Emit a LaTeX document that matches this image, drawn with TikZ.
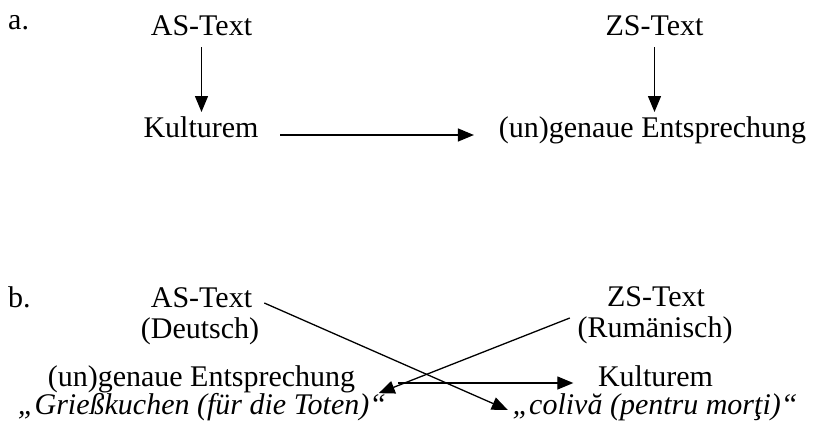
\documentclass[tikz,border=0pt]{standalone}
\usepackage{fontspec}
\setmainfont{Liberation Serif}
\usetikzlibrary{arrows.meta,calc}
\begin{document}
\begin{tikzpicture}[x=1pt,y=-1pt,
  lbl/.style={inner sep=0pt, anchor=base, font=\fontsize{30}{36}\selectfont},
  ital/.style={lbl, font=\fontsize{30}{36}\selectfont\itshape},
  tag/.style={lbl, anchor=base west},
  arr/.style={line width=1.3pt, -{Triangle[length=16pt,width=13pt]}}]
\useasboundingbox (0,0) rectangle (817,426);

% part a
\node[tag] (la) at (8,29) {a.};
\node[lbl] (asA) at (201.5,35) {AS-Text};
\node[lbl] (zsA) at (654.5,35) {ZS-Text};
\node[lbl] (kultA) at (201,137) {Kulturem};
\node[lbl] (entA) at (652.5,137) {(un)genaue Entsprechung};

\draw[arr] ($(asA.base)+(0,12)$) -- ($(asA.base |- kultA.base)+(0,-25)$);
\draw[arr] ($(zsA.base)+(0,12)$) -- ($(zsA.base |- entA.base)+(0,-25)$);
\draw[arr] ($(kultA.base east)+(21.5,-2)$) -- ($(entA.base west)+(-24.7,-2)$);

% part b
\node[tag] (lb) at (8,307) {b.};
\node[lbl] (asB) at (201.5,307) {AS-Text};
\node[lbl] (deB) at (200,338) {(Deutsch)};
\node[lbl] (entB) at (201.5,386.5) {(un)genaue Entsprechung};
\node[ital] (griB) at (202,414.5) {„Grießkuchen (für die Toten)“};
\node[lbl] (zsB) at (656,306) {ZS-Text};
\node[lbl] (ruB) at (655,337) {(Rumänisch)};
\node[lbl] (kuB) at (655.5,386.5) {Kulturem};
\node[ital] (coB) at (655,414.5) {„colivă (pentru morţi)“};

\draw[arr] ($(asB.base east)+(12,-4)$) -- ($(coB.base west)+(-4.5,-4.5)$);
\draw[arr] ($(ruB.north west)+(-7.5,2)$) -- ($(griB.north east)+(-7.5,0)$);
\draw[arr] ($(entB.base east)+(43,-3.5)$) -- ($(kuB.base west)+(-24.5,-3.5)$);
\end{tikzpicture}
\end{document}
